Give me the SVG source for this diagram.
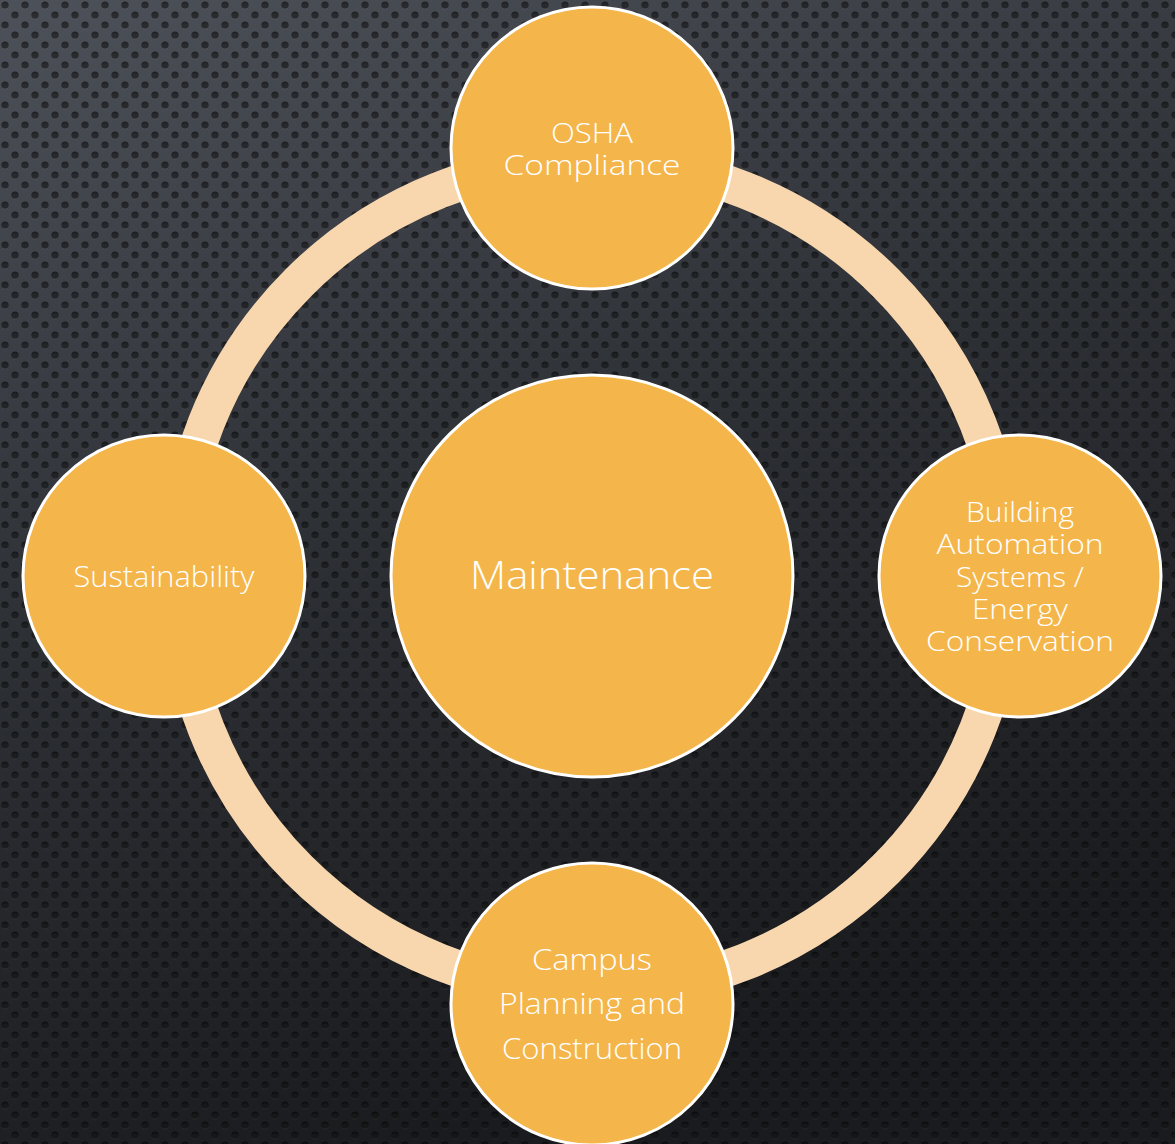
<svg xmlns="http://www.w3.org/2000/svg" width="1175" height="1144" viewBox="0 0 1175 1144">
  <defs>
    <linearGradient id="bg" x1="0" y1="0" x2="0.35" y2="1">
      <stop offset="0" stop-color="#4d5159"/>
      <stop offset="0.5" stop-color="#2d3035"/>
      <stop offset="1" stop-color="#1a1b1e"/>
    </linearGradient>
    <pattern id="dots" width="20" height="20" patternUnits="userSpaceOnUse">
      <circle cx="5" cy="5" r="3.6" fill="#000" fill-opacity="0.55"/>
      <circle cx="15" cy="15" r="3.6" fill="#000" fill-opacity="0.55"/>
      <circle cx="5" cy="6.5" r="3.2" fill="#fff" fill-opacity="0.04"/>
      <circle cx="15" cy="16.5" r="3.2" fill="#fff" fill-opacity="0.04"/>
    </pattern>
  </defs>
  <style>
    .node { fill: #f4b64a; stroke: #ffffff; stroke-width: 3; }
    .lbl { fill: #ffffff; font-family: "Open Sans", "Liberation Sans", sans-serif; font-weight: 300; text-anchor: middle; }
    .ring { fill: none; stroke: #f8d7ae; stroke-width: 37; }
  </style>
  <rect width="1175" height="1144" fill="url(#bg)"/>
  <rect width="1175" height="1144" fill="url(#dots)"/>

  <g id="connectors">
    <circle class="ring" cx="592" cy="576" r="415"/>
  </g>

  <g id="node-maintenance">
    <circle class="node" cx="592" cy="576" r="201"/>
    <text class="lbl" x="592" y="589" font-size="38" textLength="244" lengthAdjust="spacingAndGlyphs">Maintenance</text>
  </g>

  <g id="node-osha">
    <circle class="node" cx="592" cy="148" r="141"/>
    <text class="lbl" x="592" y="143" font-size="28" textLength="82" lengthAdjust="spacingAndGlyphs">OSHA</text>
    <text class="lbl" x="592" y="175" font-size="28" textLength="177" lengthAdjust="spacingAndGlyphs">Compliance</text>
  </g>

  <g id="node-building">
    <circle class="node" cx="1020" cy="576" r="141"/>
    <text class="lbl" x="1020" y="522" font-size="28" textLength="108" lengthAdjust="spacingAndGlyphs">Building</text>
    <text class="lbl" x="1020" y="554" font-size="28" textLength="167" lengthAdjust="spacingAndGlyphs">Automation</text>
    <text class="lbl" x="1020" y="587" font-size="28" textLength="128" lengthAdjust="spacingAndGlyphs">Systems /</text>
    <text class="lbl" x="1020" y="619" font-size="28" textLength="96" lengthAdjust="spacingAndGlyphs">Energy</text>
    <text class="lbl" x="1020" y="651" font-size="28" textLength="188" lengthAdjust="spacingAndGlyphs">Conservation</text>
  </g>

  <g id="node-campus">
    <circle class="node" cx="592" cy="1004" r="141"/>
    <text class="lbl" x="592" y="970" font-size="29" textLength="120" lengthAdjust="spacingAndGlyphs">Campus</text>
    <text class="lbl" x="592" y="1014" font-size="29" textLength="186" lengthAdjust="spacingAndGlyphs">Planning and</text>
    <text class="lbl" x="592" y="1059" font-size="29" textLength="180" lengthAdjust="spacingAndGlyphs">Construction</text>
  </g>

  <g id="node-sustainability">
    <circle class="node" cx="164" cy="576" r="141"/>
    <text class="lbl" x="164" y="587" font-size="29" textLength="181" lengthAdjust="spacingAndGlyphs">Sustainability</text>
  </g>
</svg>
